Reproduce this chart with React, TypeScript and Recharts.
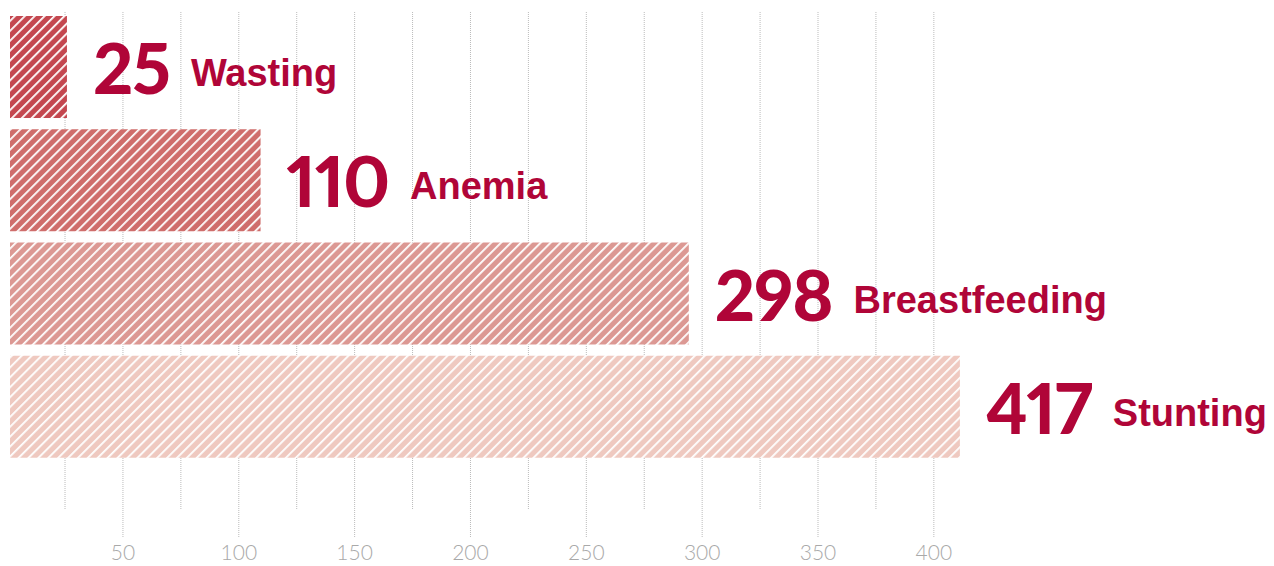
import React from 'react';
import { BarChart, Bar, XAxis, YAxis, CartesianGrid, Cell, LabelList } from 'recharts';

// indicator names and counts, top to bottom
const indicators = ['Wasting', 'Anemia', 'Breastfeeding', 'Stunting'];
const counts = [25, 110, 298, 417];
const barColors = ['#c4474f', '#cf6d6b', '#dc9893', '#efc9c0'];
const axisTicks = [50, 100, 150, 200, 250, 300, 350, 400];
const gridTicks = [25, 50, 75, 100, 125, 150, 175, 200, 225, 250, 275, 300, 325, 350, 375, 400];

const TEXT_RED = '#b00538';

const data = indicators.map((name, i) => ({ name, value: counts[i] }));

// big number + indicator name to the right of each bar
const BarLabel = (props: any) => {
  const { x, y, width, height, index } = props;
  const cy = y + height / 2;
  return (
    <text x={x + width + 26} y={cy + 27} fill={TEXT_RED} fontWeight={700}>
      <tspan
        fontSize={70}
        fontFamily="Lato, sans-serif"
        fontWeight={900}
        letterSpacing={-1}
        style={{ fontVariantNumeric: 'proportional-nums' }}
      >
        {counts[index]}
      </tspan>
      <tspan fontSize={38} dx={21} dy={-8} fontFamily="'Liberation Sans', Arial, sans-serif">
        {indicators[index]}
      </tspan>
    </text>
  );
};

export default function App() {
  return (
    <div style={{ position: 'absolute', left: 0, top: 0, background: '#fff' }}>
      <BarChart
        width={1274}
        height={566}
        layout="vertical"
        data={data}
        margin={{ top: 12, right: 10, bottom: 0, left: 10 }}
      >
        <defs>
          {barColors.map((c, i) => (
            <pattern
              key={i}
              id={`hatch-${i}`}
              patternUnits="userSpaceOnUse"
              width={7}
              height={7}
              patternTransform="rotate(45)"
            >
              <rect width={7} height={7} fill={c} />
              <rect width={1.8} height={7} fill="#fff" />
            </pattern>
          ))}
        </defs>
        <CartesianGrid
          xAxisId="ticks"
          horizontal={false}
          vertical
          stroke="#bbb"
          strokeDasharray="1 1"
          verticalValues={gridTicks}
        />
        <XAxis
          xAxisId="ticks"
          type="number"
          domain={[1.25, 542.5]}
          ticks={axisTicks}
          allowDataOverflow
          axisLine={false}
          tickSize={27}
          tickMargin={8}
          tickLine={{ stroke: '#bbb', strokeDasharray: '1 1' }}
          tick={{ fill: '#a9a9a9', fontSize: 21, fontFamily: 'Lato, sans-serif', fontWeight: 300 }}
          height={56}
        />
        <XAxis xAxisId="bars" type="number" domain={[0, 550.5]} hide height={0} allowDataOverflow />
        <YAxis
          type="category"
          dataKey="name"
          hide
          width={0}
          padding={{ top: -2, bottom: 47 }}
        />
        <Bar xAxisId="bars" dataKey="value" barSize={102} isAnimationActive={false}>
          {data.map((_, i) => (
            <Cell key={i} fill={`url(#hatch-${i})`} />
          ))}
          <LabelList content={BarLabel} />
        </Bar>
      </BarChart>
    </div>
  );
}
